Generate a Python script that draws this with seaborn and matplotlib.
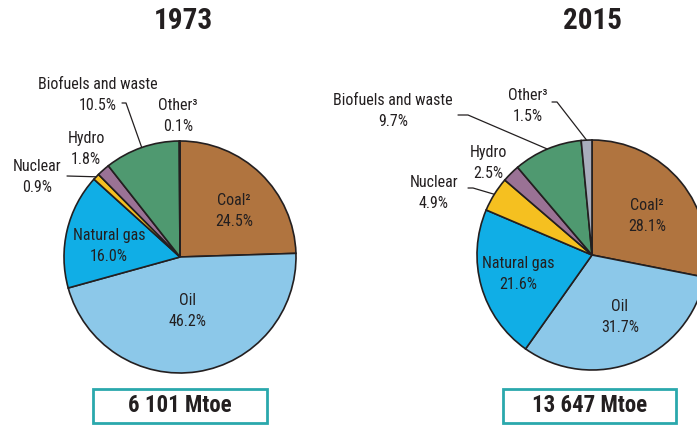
import numpy as np
import matplotlib
matplotlib.use('Agg')
import matplotlib.pyplot as plt
import seaborn as sns
from matplotlib.patches import Rectangle

sources = ['Coal²', 'Oil', 'Natural gas', 'Nuclear', 'Hydro', 'Biofuels and waste', 'Other³']
share_1973 = [24.5, 46.2, 16.0, 0.9, 1.8, 10.5, 0.1]
share_2015 = [28.1, 31.7, 21.6, 4.9, 2.5, 9.7, 1.5]
totals = ['6 101 Mtoe', '13 647 Mtoe']
years = ['1973', '2015']
colors = ['#B0743F', '#8CC8E9', '#10AEE6', '#F5C020', '#9A7295', '#4F9970', '#A8ADBD']

sns.set_theme(style='white')
plt.rcParams['font.family'] = ['Roboto Condensed', 'DejaVu Sans']

fig = plt.figure(figsize=(6.97, 4.26), dpi=100)
ax = fig.add_axes([0, 0, 1, 1])

H = 426
INK = '#231F20'

# per-pie layout: centre, radius, label positions (pixel coords, y from top)
layouts = [
    dict(c=(180, 257), r=116, title_x=183, box=(93, 389, 174, 34),
         inside={0: (234, 211), 1: (188, 311), 2: (109, 246)},
         outside={3: (37, 177, 67), 4: (86, 149, None), 5: (98, 95, 122), 6: (178, 116, None)},
         elbow={3: None, 5: (126, 103)}),
    dict(c=(592, 255), r=115, title_x=593, box=(503, 389, 173, 34),
         inside={0: (647, 216), 1: (620, 317), 2: (518, 274)},
         outside={3: (434, 193, 468), 4: (488, 163, None), 5: (393, 111, 458), 6: (528, 106, 552)},
         elbow={3: (473, 188), 5: (468, 115), 6: (557, 102)}),
]

for vals, lay, year, tot in zip([share_1973, share_2015], layouts, years, totals):
    cx, cy = lay['c']
    r = lay['r']
    ax.pie(vals, colors=colors, center=(cx, H - cy), radius=r, startangle=90,
           counterclock=False, wedgeprops=dict(edgecolor=INK, linewidth=1.2))
    ax.text(lay['title_x'], H - 21, year, ha='center', va='center',
            fontsize=21, fontweight='bold', color=INK)

    cum = np.cumsum([0] + vals)
    for i, (x, y) in lay['inside'].items():
        ax.text(x, H - y, f'{sources[i]}\n{vals[i]:.1f}%', ha='center', va='center',
                fontsize=11.5, color=INK, linespacing=1.5)
    for i, (x, y, lx) in lay['outside'].items():
        ax.text(x, H - y, f'{sources[i]}\n{vals[i]:.1f}%', ha='center', va='center',
                fontsize=11.5, color=INK, linespacing=1.5)
        if lx is None:
            continue
        # leader line to the middle of the wedge's outer edge
        mid = (cum[i] + cum[i + 1]) / 2 / 100 * 2 * np.pi
        px = cx + r * np.sin(mid)
        py = cy - r * np.cos(mid)
        el = lay['elbow'].get(i)
        if el is None:
            xs, ys = [lx, px], [y - 1, py]
        else:
            xs, ys = [lx, el[0], px], [el[1], el[1], py]
        ax.plot(xs, [H - v for v in ys], color=INK, lw=0.9)

    bx, by, bw, bh = lay['box']
    ax.add_patch(Rectangle((bx, H - by - bh), bw, bh, fill=False,
                           edgecolor='#2AA8AC', linewidth=2))
    ax.text(bx + bw / 2, H - by - bh / 2, tot, ha='center', va='center',
            fontsize=16.5, fontweight='bold', color=INK)

ax.set_aspect('auto')
ax.set_xlim(0, 697)
ax.set_ylim(0, 426)
ax.axis('off')

fig.savefig('out.png', dpi=100)
